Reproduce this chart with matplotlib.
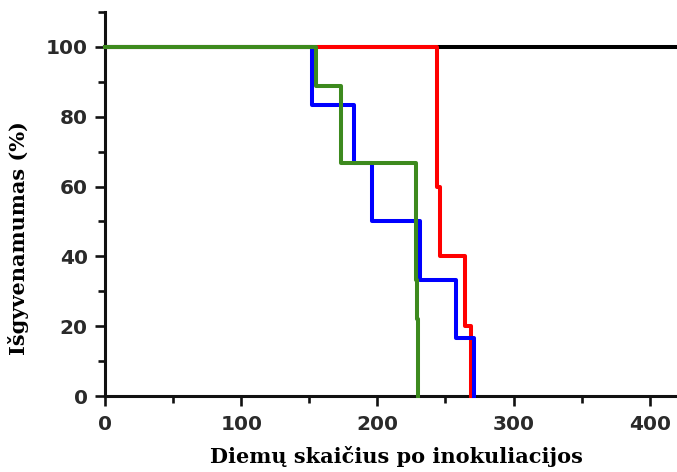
import matplotlib
matplotlib.use("Agg")
import matplotlib.pyplot as plt
from matplotlib.ticker import MultipleLocator

# Survival data (days post-inoculation, survival %), step curves
control_days = [0, 420]
control_surv = [100, 100]

red_days = [0, 244, 246, 264, 269]
red_surv = [100, 60, 40, 20, 0]

blue_days = [0, 152, 183, 196, 231, 258, 271]
blue_surv = [100, 83.3, 66.7, 50, 33.3, 16.7, 0]

green_days = [0, 155, 173, 228, 229, 230]
green_surv = [100, 88.9, 66.7, 33.3, 22.2, 0]

x_ticks = [0, 100, 200, 300, 400]
y_ticks = [0, 20, 40, 60, 80, 100]

x_label = "Diemų skaičius po inokuliacijos"
y_label = "Išgyvenamumas (%)"

fig = plt.figure(figsize=(6.77, 4.72), dpi=100)
ax = fig.add_axes([105 / 677, 1 - 396 / 472, 1 - 105 / 677, 384 / 472])

lw = 2.9
ax.step(control_days, control_surv, where="post", color="black", lw=lw, zorder=2, clip_on=False)
ax.step(red_days, red_surv, where="post", color="#ff0000", lw=lw, zorder=3, clip_on=False)
ax.step(blue_days, blue_surv, where="post", color="#0000ff", lw=lw, zorder=4, clip_on=False)
ax.step(green_days, green_surv, where="post", color="#3d8a1e", lw=lw, zorder=5, clip_on=False)

ax.set_xlim(0, 420)
ax.set_ylim(0, 110)

for side in ("top", "right"):
    ax.spines[side].set_visible(False)
for side in ("left", "bottom"):
    ax.spines[side].set_linewidth(2.2)
    ax.spines[side].set_color("#111111")

ax.set_xticks(x_ticks)
ax.set_yticks(y_ticks)
ax.xaxis.set_minor_locator(MultipleLocator(50))
ax.yaxis.set_minor_locator(MultipleLocator(10))
ax.tick_params(which="major", direction="out", length=7, width=1.9, color="#111111")
ax.tick_params(which="minor", direction="out", length=5, width=1.9, color="#111111")

tick_font = dict(family="DejaVu Sans", weight="bold", size=14.5)
ax.set_xticklabels([str(t) for t in x_ticks], **tick_font, color="#2a2a2a")
ax.set_yticklabels([str(t) for t in y_ticks], **tick_font, color="#2a2a2a")
ax.tick_params(axis="x", pad=7)
ax.tick_params(axis="y", pad=5.5)

label_font = dict(family="DejaVu Serif", weight="bold", size=15)
ax.set_xlabel(x_label, **label_font)
ax.set_ylabel(y_label, **label_font)
ax.xaxis.set_label_coords(0.51, -0.13)
ax.yaxis.set_label_coords(-0.132, 0.41)

fig.savefig("out.png", dpi=100)
